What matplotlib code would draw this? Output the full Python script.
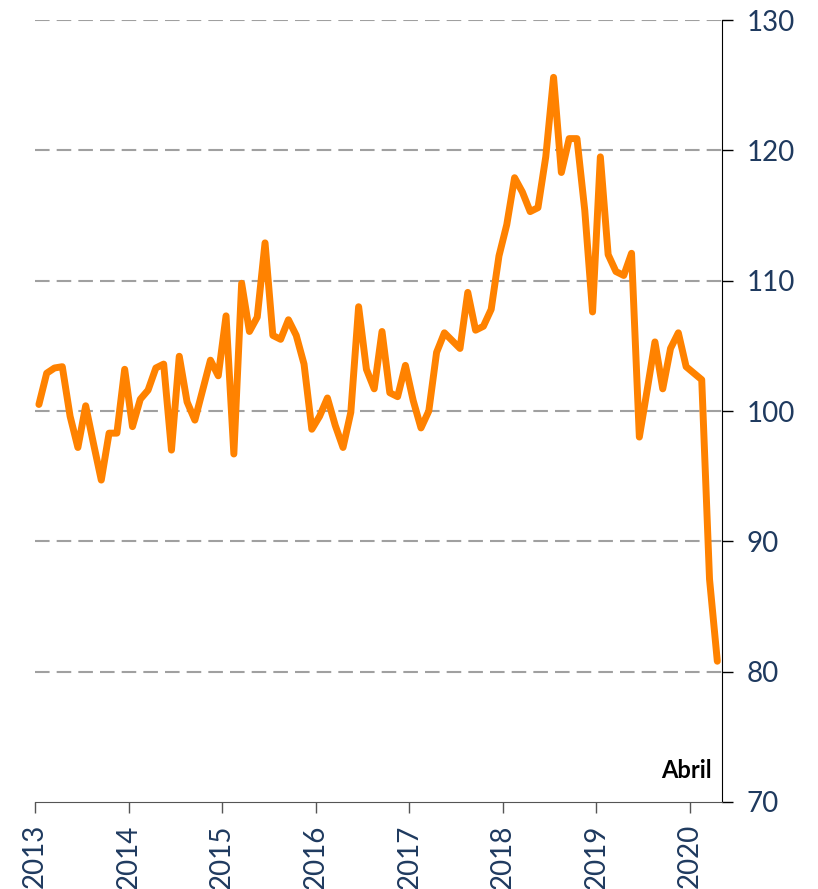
import numpy as np
import matplotlib.pyplot as plt

# monthly index, Jan 2013 .. Apr 2020
start_year = 2013
values = [100.5, 102.9, 103.3, 103.4, 99.6, 97.2, 100.4, 97.5, 94.7, 98.3, 98.3, 103.2,
          98.8, 100.9, 101.6, 103.3, 103.6, 97.0, 104.2, 100.7, 99.3, 101.6, 103.9, 102.7,
          107.3, 96.7, 109.8, 106.1, 107.2, 112.9, 105.8, 105.5, 107.0, 105.8, 103.6, 98.6,
          99.6, 101.0, 98.9, 97.2, 99.9, 108.0, 103.2, 101.7, 106.1, 101.4, 101.1, 103.5,
          100.8, 98.7, 100.0, 104.5, 106.0, 105.4, 104.8, 109.1, 106.2, 106.5, 107.8, 111.9,
          114.3, 117.9, 116.8, 115.3, 115.6, 119.5, 125.6, 118.3, 120.9, 120.9, 115.4, 107.6,
          119.5, 112.0, 110.7, 110.4, 112.1, 98.0, 101.6, 105.3, 101.7, 104.8, 106.0, 103.4,
          102.9, 102.4, 87.1, 80.8]
years = list(range(2013, 2021))
yticks = [70, 80, 90, 100, 110, 120, 130]
note = "Abril"

navy = "#1F3A5F"
orange = "#FF8200"

x = start_year + (np.arange(len(values)) + 0.5) / 12

plt.rcParams['font.family'] = ['Lato', 'DejaVu Sans']

fig = plt.figure(figsize=(8.18, 8.89), dpi=100)
ax = fig.add_axes([35 / 818, 1 - 802 / 889, (722 - 35) / 818, (802 - 20) / 889])

for v in yticks[1:]:
    ax.axhline(v, color="#A0A0A0", lw=1.5, ls=(0, (7, 3.4)), zorder=1)

ax.plot(x, values, color=orange, lw=5, solid_joinstyle="round",
        solid_capstyle="round", zorder=3)

ax.set_xlim(2013, 2020 + 4.1 / 12)
ax.set_ylim(70, 130)

ax.yaxis.tick_right()
ax.set_yticks(yticks)
ax.set_xticks(years)
ax.set_xticklabels([str(y) for y in years], rotation=90)

ax.tick_params(axis="y", direction="out", length=8, width=1, colors="black",
               labelcolor=navy, labelsize=20, pad=10)
ax.tick_params(axis="x", direction="out", length=8, width=1, colors="#555555",
               labelcolor=navy, labelsize=20, pad=8)

for s in ["top", "left"]:
    ax.spines[s].set_visible(False)
ax.spines["right"].set_color("black")
ax.spines["bottom"].set_color("#555555")

ax.text(0.985, 0.025, note, transform=ax.transAxes, ha="right", va="bottom",
        fontsize=17, fontweight="bold", color="black")

fig.savefig("out.png", dpi=100)
